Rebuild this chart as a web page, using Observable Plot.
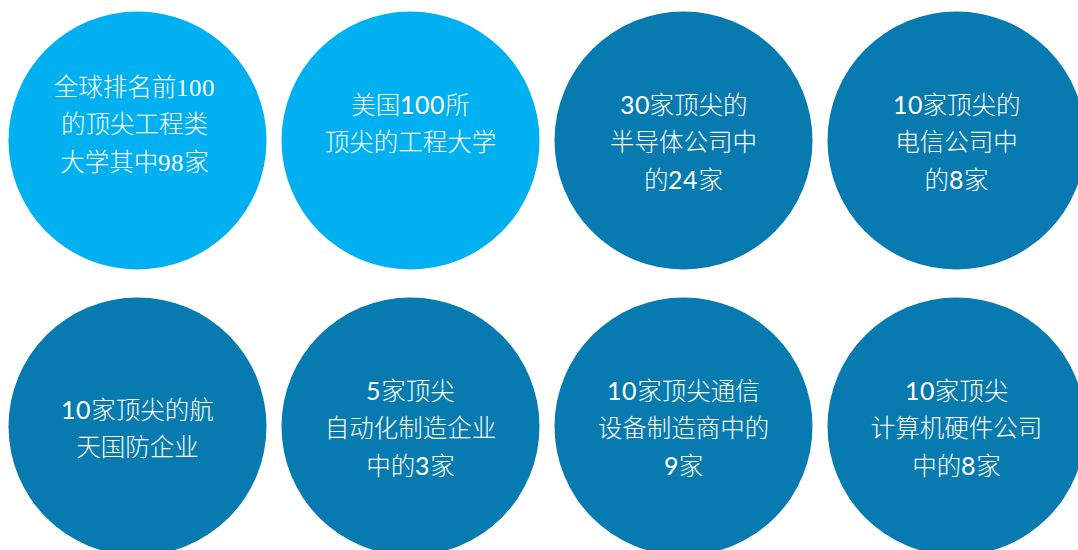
<!DOCTYPE html>
<html>
<head>
<meta charset="utf-8">
<script src="https://cdn.jsdelivr.net/npm/d3@7"></script>
<script src="https://cdn.jsdelivr.net/npm/@observablehq/plot@0.6"></script>
<style>
  @font-face {
    font-family: "DigitSans";
    src: local("Lato Regular"), local("Lato-Regular"), local("Lato");
    unicode-range: U+0030-0039;
  }
  @font-face {
    font-family: "DigitSerif";
    src: local("Liberation Serif"), local("LiberationSerif"), local("DejaVu Serif");
    unicode-range: U+0030-0039;
  }
  html, body { margin: 0; padding: 0; background: #ffffff; overflow: hidden; }
  #chart svg { display: block; }
</style>
</head>
<body>
<div id="chart"></div>
<script>
// Labels of the eight circles (line breaks as in the reference)
const labels = [
  "全球排名前100\n的顶尖工程类\n大学其中98家",
  "美国100所\n顶尖的工程大学",
  "30家顶尖的\n半导体公司中\n的24家",
  "10家顶尖的\n电信公司中\n的8家",
  "10家顶尖的航\n天国防企业",
  "5家顶尖\n自动化制造企业\n中的3家",
  "10家顶尖通信\n设备制造商中的\n9家",
  "10家顶尖\n计算机硬件公司\n中的8家"
];
// Kind of each circle: universities vs companies
const kinds = ["大学", "大学", "企业", "企业", "企业", "企业", "企业", "企业"];
const kindDomain = ["大学", "企业"];

const perRow = 4;
const data = labels.map((label, i) => ({
  label,
  kind: kinds[i],
  col: i % perRow,
  row: Math.floor(i / perRow),
  idx: i
}));

const cjk = "'Noto Sans CJK SC', 'Noto Sans', sans-serif";
const textStyle = { x: "col", y: "row", text: "label", fill: "white", fontSize: 24.5, lineHeight: 1.52, fontWeight: 300 };

const chart = Plot.plot({
  width: 1078,
  height: 550,
  style: { background: "#ffffff", overflow: "hidden" },
  x: { type: "point", domain: [0, 1, 2, 3], range: [137, 956], padding: 0, axis: null },
  y: { type: "point", domain: [0, 1], range: [140, 426], padding: 0, axis: null },
  color: { type: "ordinal", domain: kindDomain, range: ["#00B0F0", "#077AB0"] },
  marks: [
    Plot.dot(data, { x: "col", y: "row", r: 129, fill: "kind", stroke: null }),
    Plot.text(data, { ...textStyle, filter: d => d.idx === 0, dy: -19, dx: -3,
      fontFamily: "DigitSerif, " + cjk }),
    Plot.text(data, { ...textStyle, filter: d => d.idx === 1, dy: -20,
      fontFamily: "DigitSans, " + cjk }),
    Plot.text(data, { ...textStyle, filter: d => d.kind === "企业", dy: -1,
      fontFamily: "DigitSans, " + cjk })
  ]
});
document.getElementById("chart").appendChild(chart);
</script>
</body>
</html>
